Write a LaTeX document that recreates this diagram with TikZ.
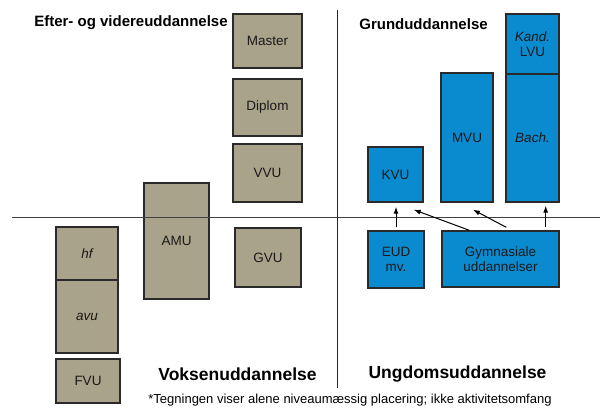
\documentclass[tikz,border=0pt]{standalone}
\usepackage{fontspec}
\setmainfont{Liberation Sans}
\usetikzlibrary{arrows.meta}
\definecolor{tan}{HTML}{A9A38B}
\definecolor{blu}{HTML}{0A8BD0}
\definecolor{edge}{HTML}{2A2A2A}
\tikzset{
  box/.style={draw=edge, line width=1.4pt, rectangle, inner sep=1pt, align=center,
    font=\fontsize{13.5}{15}\selectfont, text=black!90},
  tanbox/.style={box, fill=tan},
  blubox/.style={box, fill=blu},
  title/.style={font=\fontsize{15}{17}\selectfont\bfseries, inner sep=0pt},
  bigtitle/.style={font=\fontsize{17.5}{20}\selectfont\bfseries, inner sep=0pt},
  arr/.style={draw=black, line width=1pt, -{Latex[length=7pt,width=5pt]}},
}
\begin{document}
\begin{tikzpicture}[x=1pt,y=-1pt]
\useasboundingbox (0,0) rectangle (600,408);
% left boxes
\node[tanbox, minimum width=69pt, minimum height=54pt] (master) at (267.5,41) {Master};
\node[tanbox, minimum width=69pt, minimum height=57pt] (diplom) at (267.5,107.5) {Diplom};
\node[tanbox, minimum width=69pt, minimum height=58pt] (vvu) at (267.5,173) {VVU};
\node[tanbox, minimum width=65pt, minimum height=116pt] (amu) at (176.5,241) {AMU};
\node[tanbox, minimum width=66pt, minimum height=59pt] (gvu) at (268,257.5) {GVU};
\node[tanbox, minimum width=62pt, minimum height=53pt] (hf) at (87,253.5) {\itshape hf};
\node[tanbox, minimum width=62pt, minimum height=73pt] (avu) at (87,316.5) {\itshape avu};
\node[tanbox, minimum width=64pt, minimum height=44pt] (fvu) at (88,381) {FVU};
% right boxes
\node[blubox, minimum width=53pt, minimum height=60pt] (kand) at (532.5,44) {\itshape Kand.\\LVU};
\node[blubox, minimum width=53pt, minimum height=128pt] (bach) at (532.5,138) {\itshape Bach.};
\node[blubox, minimum width=52pt, minimum height=129pt] (mvu) at (467,137.5) {MVU};
\node[blubox, minimum width=55pt, minimum height=55pt] (kvu) at (395.5,174.5) {KVU};
\node[blubox, minimum width=56pt, minimum height=57pt] (eud) at (396,259.5) {EUD\\mv.};
\node[blubox, minimum width=117pt, minimum height=56pt] (gym) at (500.5,259) {Gymnasiale\\uddannelser};
% axes
\coordinate (hl) at (12,217);
\coordinate (hr) at (600,217);
\coordinate (vt) at (337,10);
\coordinate (vb) at (337,388);
\draw[line width=0.9pt, draw=black!75] (hl) -- (hr);
\draw[line width=0.9pt, draw=black!85] (vt) -- (vb);
% arrows
\draw[arr, shorten <=3pt, shorten >=4pt] (eud.north) -- (eud.north |- kvu.south);
\draw[arr] ([xshift=28pt]gym.north west) -- ([xshift=-10pt,yshift=-7pt]kvu.south east);
\draw[arr] ([xshift=65pt,yshift=3pt]gym.north west) -- ([xshift=6pt,yshift=-7pt]mvu.south);
\draw[arr, shorten <=3pt, shorten >=3pt] ([xshift=-14pt]gym.north east) -- ([xshift=-14pt]bach.south east);
% titles
\node[title] (t1) at (131,23) {Efter- og videreuddannelse};
\node[title] (t2) at (423.5,24) {Grunduddannelse};
\node[bigtitle] (t3) at (237.5,374) {Voksenuddannelse};
\node[bigtitle] (t4) at (457.5,374) {Ungdomsuddannelse};
\node[font=\fontsize{13}{15}\selectfont, inner sep=0pt] (fn) at (350,400) {*Tegningen viser alene niveaumæssig placering; ikke aktivitetsomfang};
\end{tikzpicture}
\end{document}
